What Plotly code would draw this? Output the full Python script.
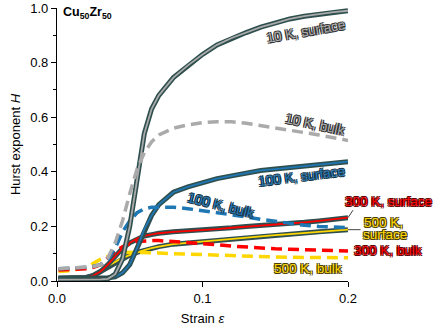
import plotly.graph_objects as go

# strain values where the curves were sampled
strain = [0.001, 0.01, 0.02, 0.025, 0.03, 0.035, 0.04, 0.045, 0.05, 0.055,
          0.06, 0.065, 0.07, 0.08, 0.09, 0.1, 0.11, 0.12, 0.13, 0.14,
          0.15, 0.16, 0.17, 0.18, 0.19, 0.2]

h10_surface = [0.005, 0.005, 0.005, 0.005, 0.006, 0.008, 0.025, 0.08, 0.2, 0.37,
               0.54, 0.63, 0.68, 0.745, 0.79, 0.83, 0.865, 0.89, 0.91, 0.93,
               0.945, 0.96, 0.97, 0.978, 0.985, 0.99]
h10_bulk = [0.045, 0.047, 0.05, 0.053, 0.06, 0.085, 0.14, 0.22, 0.32, 0.41,
            0.47, 0.51, 0.535, 0.56, 0.572, 0.58, 0.583, 0.583, 0.578, 0.57,
            0.56, 0.552, 0.545, 0.535, 0.525, 0.515]
h100_surface = [0.01, 0.01, 0.01, 0.01, 0.01, 0.012, 0.015, 0.03, 0.06, 0.12,
                0.19, 0.24, 0.28, 0.325, 0.345, 0.36, 0.375, 0.385, 0.395, 0.405,
                0.41, 0.415, 0.42, 0.425, 0.43, 0.437]
h100_bulk = [0.045, 0.047, 0.05, 0.054, 0.06, 0.08, 0.12, 0.18, 0.22, 0.25,
             0.265, 0.27, 0.27, 0.27, 0.265, 0.258, 0.25, 0.243, 0.235, 0.226,
             0.218, 0.21, 0.204, 0.2, 0.197, 0.195]
h300_surface = [0.01, 0.01, 0.012, 0.02, 0.035, 0.06, 0.09, 0.12, 0.14, 0.155,
                0.165, 0.17, 0.175, 0.18, 0.183, 0.187, 0.19, 0.195, 0.2, 0.203,
                0.207, 0.21, 0.215, 0.22, 0.225, 0.232]
h300_bulk = [0.04, 0.042, 0.045, 0.05, 0.06, 0.085, 0.11, 0.125, 0.137, 0.145,
             0.148, 0.148, 0.148, 0.145, 0.142, 0.138, 0.133, 0.128, 0.124, 0.12,
             0.118, 0.116, 0.114, 0.112, 0.111, 0.11]
h500_surface = [0.01, 0.01, 0.013, 0.02, 0.035, 0.055, 0.07, 0.085, 0.095, 0.105,
                0.113, 0.12, 0.126, 0.135, 0.14, 0.145, 0.15, 0.155, 0.16, 0.165,
                0.168, 0.172, 0.176, 0.18, 0.184, 0.188]
h500_bulk = [0.035, 0.038, 0.05, 0.065, 0.08, 0.09, 0.098, 0.103, 0.105, 0.105,
             0.105, 0.104, 0.103, 0.1, 0.098, 0.095, 0.093, 0.091, 0.09, 0.089,
             0.088, 0.087, 0.087, 0.086, 0.086, 0.085]

OUTLINE = "#2f4f4f"
GREY = "#aaaaaa"
BLUE = "#1f77b4"
RED = "#ff0000"
GOLD = "#ffd700"
FONT = "Liberation Sans, Arial, sans-serif"


def stroke(color):
    # fake a text outline with four shifted shadows
    return ", ".join(f"{dx}px {dy}px 0 {color}" for dx, dy in
                     [(-1, -1), (1, -1), (-1, 1), (1, 1)])


fig = go.Figure()


def add_surface(y, color):
    fig.add_trace(go.Scatter(x=strain, y=y, mode="lines",
                             line=dict(color=OUTLINE, width=5), hoverinfo="skip"))
    fig.add_trace(go.Scatter(x=strain, y=y, mode="lines",
                             line=dict(color=color, width=1.8), hoverinfo="skip"))


def add_bulk(y, color):
    fig.add_trace(go.Scatter(x=strain, y=y, mode="lines",
                             line=dict(color=color, width=3.5, dash="11px,6px"),
                             hoverinfo="skip"))


add_surface(h500_surface, GOLD)
add_bulk(h500_bulk, GOLD)
add_surface(h300_surface, RED)
add_bulk(h300_bulk, RED)
add_surface(h100_surface, BLUE)
add_bulk(h100_bulk, BLUE)
add_surface(h10_surface, GREY)
add_bulk(h10_bulk, GREY)

# plot area spans px 57..348 horizontally, 8..281 vertically
def px(x):
    return (x - 57) / 291


def py(y):
    return (281 - y) / 273


# "500 K, surface" is split over two lines, set as two pieces to keep them tight
labels = [
    ("10 K, surface", 306, 31, -10, GREY, "#333333", "center"),
    ("10 K, bulk", 315, 124, 12, GREY, "#333333", "center"),
    ("100 K, surface", 301, 176, -7, BLUE, "#173447", "center"),
    ("100 K, bulk", 221, 205, 14, BLUE, "#173447", "center"),
    ("300 K, surface", 388, 202, 0, RED, "#5a0000", "center"),
    ("500 K,", 362, 222, 0, GOLD, "#4a3d00", "left"),
    ("surface", 361, 235, 0, GOLD, "#4a3d00", "left"),
    ("300 K, bulk", 388, 251, 0, RED, "#5a0000", "center"),
    ("500 K, bulk", 308, 268, 0, GOLD, "#4a3d00", "center"),
]
for text, x, y, ang, fill, edge, align in labels:
    fig.add_annotation(text=text, x=px(x), y=py(y), xref="paper", yref="paper",
                       xanchor=align, yanchor="middle",
                       showarrow=False, textangle=ang, align=align,
                       font=dict(family=FONT, size=13.5, color=fill,
                                 shadow=stroke(edge)))

# leader lines to the ends of the warm surface curves
fig.add_annotation(x=strain[-1], y=h300_surface[-1], text="", showarrow=True,
                   arrowhead=0, arrowwidth=1, arrowcolor="#444", ax=6, ay=-9)
fig.add_annotation(x=strain[-1], y=h500_surface[-1], text="", showarrow=True,
                   arrowhead=0, arrowwidth=1, arrowcolor="#444", ax=14, ay=0)

fig.add_annotation(text="<b>Cu<sub>50</sub>Zr<sub>50</sub></b>", x=px(61), y=py(3),
                   xref="paper", yref="paper", xanchor="left", yanchor="top",
                   showarrow=False, font=dict(family=FONT, size=12.5, color="black"))

axis_style = dict(showline=True, linecolor="black", linewidth=1.3, ticks="outside",
                  ticklen=5, tickwidth=1.3, tickcolor="black", showgrid=False,
                  zeroline=False, automargin=False,
                  tickfont=dict(family=FONT, size=13, color="black"),
                  title_font=dict(family=FONT, size=13, color="black"))

fig.update_xaxes(range=[0, 0.2], tickvals=[0, 0.1, 0.2], tickformat=".1f",
                 title_text="Strain <i>ε</i>", title_standoff=9, **axis_style)
fig.update_yaxes(range=[0, 1.0], dtick=0.2, tickformat=".1f",
                 title_text="Hurst exponent <i>H</i>", title_standoff=6,
                 minor=dict(dtick=0.1, ticks="outside", ticklen=3, tickcolor="black"),
                 **axis_style)

fig.update_layout(width=436, height=327, showlegend=False,
                  plot_bgcolor="white", paper_bgcolor="white",
                  margin=dict(l=57, r=88, t=8, b=46))

# drop the page's default body margin so the figure sits at the top-left corner
fig.write_html("out.html", config={"displayModeBar": False},
               post_script="document.body.style.margin='0';")
